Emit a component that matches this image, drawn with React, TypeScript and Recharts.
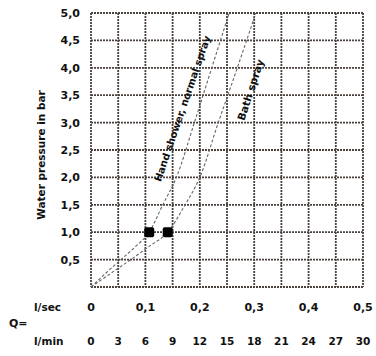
import { ComposedChart, Line, Scatter, XAxis, YAxis, CartesianGrid, Label } from "recharts";

// flow rate Q in l/sec, pressure in bar
const handFlow = [0, 0.028, 0.055, 0.082, 0.107, 0.132, 0.157, 0.19, 0.222, 0.254];
const handPressure = [0, 0.26, 0.5, 0.74, 1.0, 1.5, 2.0, 3.0, 4.0, 5.0];
const bathFlow = [0, 0.035, 0.073, 0.108, 0.141, 0.173, 0.2, 0.234, 0.269, 0.303];
const bathPressure = [0, 0.24, 0.5, 0.75, 1.0, 1.5, 2.0, 3.0, 4.0, 5.0];
const markerFlow = [0.107, 0.141];
const markerPressure = [1.0, 1.0];

const xTicks = [0, 0.05, 0.1, 0.15, 0.2, 0.25, 0.3, 0.35, 0.4, 0.45, 0.5];
const lSecLabels = ["0", "", "0,1", "", "0,2", "", "0,3", "", "0,4", "", "0,5"];
const lMinLabels = ["0", "3", "6", "9", "12", "15", "18", "21", "24", "27", "30"];
const yTicks = [0, 0.5, 1, 1.5, 2, 2.5, 3, 3.5, 4, 4.5, 5];

const handData = handFlow.map((q, i) => ({ q, p: handPressure[i] }));
const bathData = bathFlow.map((q, i) => ({ q, p: bathPressure[i] }));
const markerData = markerFlow.map((q, i) => ({ q, p: markerPressure[i] }));

const font = "'DejaVu Sans', sans-serif";
const ink = "#111";
const gridColor = "#4a403c";

function XTick(props: any) {
  const { x, y, index } = props;
  return (
    <g fontFamily={font} fontWeight="bold" fill={ink}>
      <text x={x} y={y + 24} textAnchor="middle" fontSize={11}>{lSecLabels[index]}</text>
      <text x={x} y={y + 58} textAnchor="middle" fontSize={10.5}>{lMinLabels[index]}</text>
      {index === 0 && (
        <>
          <text x={34} y={y + 24} fontSize={10.5}>l/sec</text>
          <text x={9} y={y + 40} fontSize={11}>Q=</text>
          <text x={34} y={y + 58} fontSize={10.5}>l/min</text>
        </>
      )}
    </g>
  );
}

function curveLabel(text: string, at: number, dx: number, dy: number, angle: number, size: number) {
  return (props: any) => {
    if (props.index !== at) return null;
    const cx = props.x + dx;
    const cy = props.y + dy;
    return (
      <text
        x={cx}
        y={cy}
        transform={`rotate(${angle}, ${cx}, ${cy})`}
        textAnchor="middle"
        dominantBaseline="central"
        fontFamily={font}
        fontWeight="bold"
        fontSize={size}
        fill={ink}
      >
        {text}
      </text>
    );
  };
}

const square = (props: any) => (
  <rect x={props.cx - 5} y={props.cy - 5} width={10} height={10} rx={2} fill="#000" />
);

export default function App() {
  return (
    <div style={{ position: "absolute", left: 0, top: 0, background: "#fff" }}>
      <ComposedChart width={376} height={356} margin={{ top: 13, right: 13, bottom: 0, left: 0 }}>
        <CartesianGrid stroke={gridColor} strokeWidth={1.8} strokeDasharray="2 1" />
        <XAxis
          dataKey="q"
          type="number"
          domain={[0, 0.5]}
          ticks={xTicks}
          height={69}
          axisLine={false}
          tickLine={false}
          tickSize={0}
          tickMargin={0}
          interval={0}
          tick={(p: any) => <XTick {...p} />}
        />
        <YAxis
          type="number"
          domain={[0, 5]}
          ticks={yTicks}
          width={91}
          axisLine={false}
          tickLine={false}
          tickSize={0}
          tickMargin={11}
          interval={0}
          tickFormatter={(v: number) => (v === 0 ? "" : v.toFixed(1).replace(".", ","))}
          tick={{ fontFamily: font, fontWeight: "bold", fontSize: 11, fill: ink }}
        >
          <Label
            content={({ viewBox }: any) => {
              const cx = 41;
              const cy = viewBox.y + viewBox.height / 2 + 5;
              return (
                <text
                  x={cx}
                  y={cy}
                  transform={`rotate(-90, ${cx}, ${cy})`}
                  textAnchor="middle"
                  dominantBaseline="central"
                  fontFamily={font}
                  fontWeight="bold"
                  fontSize={10.5}
                  fill={ink}
                >
                  Water pressure in bar
                </text>
              );
            }}
          />
        </YAxis>
        <Line
          data={handData}
          dataKey="p"
          type="monotone"
          stroke="#666"
          strokeWidth={1.1}
          strokeDasharray="3 2"
          dot={false}
          isAnimationActive={false}
          label={curveLabel("Hand shower, normal spray", 7, -12, -14, -71, 10)}
        />
        <Line
          data={bathData}
          dataKey="p"
          type="monotone"
          stroke="#666"
          strokeWidth={1.1}
          strokeDasharray="3 2"
          dot={false}
          isAnimationActive={false}
          label={curveLabel("Bath spray", 8, 13, 22, -72, 10.5)}
        />
        <Scatter data={markerData} dataKey="p" shape={square} isAnimationActive={false} />
      </ComposedChart>
    </div>
  );
}
